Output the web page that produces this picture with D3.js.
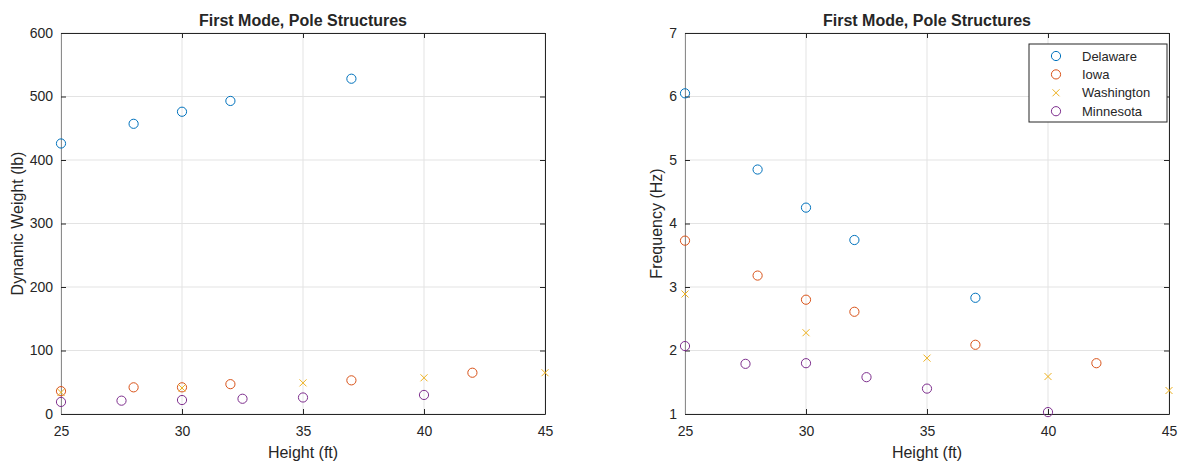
<!DOCTYPE html>
<html>
<head>
<meta charset="utf-8">
<title>First Mode, Pole Structures</title>
<script src="https://d3js.org/d3.v7.min.js"></script>
<style>
  body { margin: 0; background: #fff; }
  text { font-family: "Liberation Sans", Arial, sans-serif; fill: #262626; }
</style>
</head>
<body>
<script>
// series data
var names = ["Delaware", "Iowa", "Washington", "Minnesota"];
var colors = ["#0072BD", "#D95319", "#EDB120", "#7E2F8E"];
var symbols = ["o", "o", "x", "o"];

var heightDel = [25, 28, 30, 32, 37];
var heightIowa = [25, 28, 30, 32, 37, 42];
var heightWash = [25, 30, 35, 40, 45];
var heightMinn = [25, 27.5, 30, 32.5, 35, 40];

var weightDel = [426, 457, 476, 493, 528];
var weightIowa = [36, 42, 42, 47, 53, 65];
var weightWash = [34, 41, 49, 57, 65];
var weightMinn = [19, 21, 22, 24, 26, 30];

var freqDel = [6.05, 4.85, 4.25, 3.74, 2.83];
var freqIowa = [3.73, 3.18, 2.80, 2.61, 2.09, 1.80];
var freqWash = [2.89, 2.28, 1.88, 1.59, 1.37];
var freqMinn = [2.07, 1.79, 1.80, 1.58, 1.40, 1.03];

var xTicks = [25, 30, 35, 40, 45];
var weightTicks = [0, 100, 200, 300, 400, 500, 600];
var freqTicks = [1, 2, 3, 4, 5, 6, 7];

var svg = d3.select("body").append("svg")
  .attr("width", 1180).attr("height", 463);

function panel(left, right, yDom, yTicks, ys, yLabel, labelX, withLegend) {
  var top = 33, bottom = 414;
  var x = d3.scaleLinear().domain([25, 45]).range([left, right]);
  var y = d3.scaleLinear().domain(yDom).range([bottom, top]);
  var g = svg.append("g");

  // grid
  g.selectAll(".gx").data(xTicks).enter().append("line")
    .attr("x1", d => x(d)).attr("x2", d => x(d))
    .attr("y1", top).attr("y2", bottom)
    .attr("stroke", "#e3e3e3").attr("stroke-width", 1);
  g.selectAll(".gy").data(yTicks).enter().append("line")
    .attr("x1", left).attr("x2", right)
    .attr("y1", d => y(d)).attr("y2", d => y(d))
    .attr("stroke", "#e3e3e3").attr("stroke-width", 1);

  // axes (ticks inside, mirrored)
  var ax = [
    d3.axisBottom(x).tickValues(xTicks).tickSizeInner(-5).tickSizeOuter(0),
    d3.axisTop(x).tickValues(xTicks).tickSizeInner(-5).tickSizeOuter(0).tickFormat(""),
    d3.axisLeft(y).tickValues(yTicks).tickSizeInner(-5).tickSizeOuter(0).tickFormat(d3.format("d")),
    d3.axisRight(y).tickValues(yTicks).tickSizeInner(-5).tickSizeOuter(0).tickFormat("")
  ];
  var pos = ["translate(0," + bottom + ")", "translate(0," + top + ")",
             "translate(" + left + ",0)", "translate(" + right + ",0)"];
  ax.forEach(function(a, i) {
    var ag = g.append("g").attr("transform", pos[i]).call(a);
    ag.selectAll("path").attr("stroke", i == 2 ? "#8c8c8c" : "#262626");
    ag.selectAll("line").attr("stroke", "#262626");
    ag.selectAll("text").attr("font-size", 14)
      .style("font-family", "Liberation Sans, Arial, sans-serif").attr("fill", "#262626");
    if (i == 0) ag.selectAll("text").attr("dy", "1.05em").attr("y", 7);
    if (i == 2) ag.selectAll("text").attr("x", -8);
  });

  // marks
  var xs = [heightDel, heightIowa, heightWash, heightMinn];
  ys.forEach(function(vals, s) {
    var pts = vals.map((v, k) => [xs[s][k], v]);
    if (symbols[s] == "o") {
      g.selectAll(".c" + s).data(pts).enter().append("circle")
        .attr("cx", d => x(d[0])).attr("cy", d => y(d[1])).attr("r", 4.6)
        .attr("fill", "none").attr("stroke", colors[s]).attr("stroke-width", 1);
    } else {
      g.selectAll(".c" + s).data(pts).enter().append("path")
        .attr("d", d => "M" + (x(d[0]) - 3.5) + "," + (y(d[1]) - 3.5) + "l7,7M" +
          (x(d[0]) - 3.5) + "," + (y(d[1]) + 3.5) + "l7,-7")
        .attr("fill", "none").attr("stroke", colors[s]).attr("stroke-width", 1);
    }
  });

  // title and labels
  var cx = (left + right) / 2;
  g.append("text").attr("x", cx).attr("y", 26).attr("text-anchor", "middle")
    .attr("font-size", 16).attr("font-weight", "bold").attr("fill", "#000")
    .text("First Mode, Pole Structures");
  g.append("text").attr("x", cx).attr("y", 458).attr("text-anchor", "middle")
    .attr("font-size", 16).text("Height (ft)");
  g.append("text").attr("transform", "translate(" + labelX + "," + ((top + bottom) / 2) + ") rotate(-90)")
    .attr("text-anchor", "middle").attr("font-size", 16).text(yLabel);

  if (withLegend) {
    var lx = 1029, ly = 44;
    var lg = g.append("g");
    lg.append("rect").attr("x", lx).attr("y", ly).attr("width", 138).attr("height", 78)
      .attr("fill", "#fff").attr("stroke", "#262626").attr("stroke-width", 1);
    names.forEach(function(n, s) {
      var yy = ly + 12 + s * 18.4;
      if (symbols[s] == "o") {
        lg.append("circle").attr("cx", lx + 27).attr("cy", yy).attr("r", 4.6)
          .attr("fill", "none").attr("stroke", colors[s]);
      } else {
        lg.append("path").attr("d", "M" + (lx + 23.5) + "," + (yy - 3.5) + "l7,7M" +
          (lx + 23.5) + "," + (yy + 3.5) + "l7,-7").attr("stroke", colors[s]).attr("fill", "none");
      }
      lg.append("text").attr("x", lx + 53).attr("y", yy + 4.5).attr("font-size", 13)
        .attr("fill", "#000").text(n);
    });
  }
}

panel(61, 545, [0, 600], weightTicks, [weightDel, weightIowa, weightWash, weightMinn], "Dynamic Weight (lb)", 23, false);
panel(685, 1169, [1, 7], freqTicks, [freqDel, freqIowa, freqWash, freqMinn], "Frequency (Hz)", 662, true);
</script>
</body>
</html>
